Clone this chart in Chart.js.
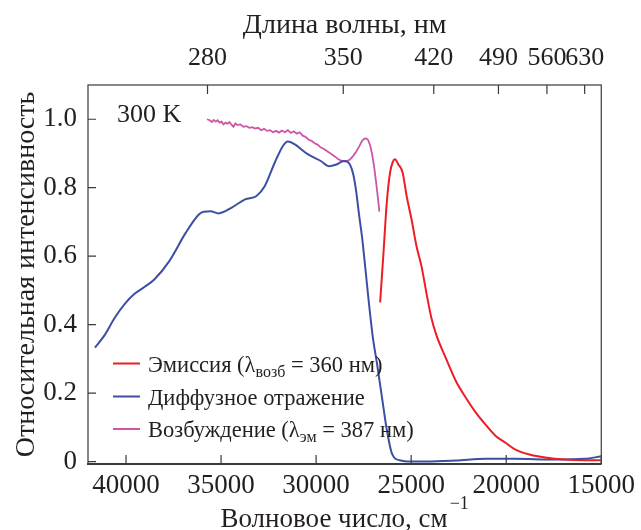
<!DOCTYPE html>
<html><head><meta charset="utf-8">
<script src="https://cdn.jsdelivr.net/npm/chart.js@4"></script>
<style>html,body{margin:0;padding:0;background:#fff}</style>
</head><body>
<canvas id="c" width="641" height="530"></canvas>
<script>
const FONT = '"Liberation Serif", "Times New Roman", serif';
const TEXT = '#231f20';

// Axis tick labels
const bottomTicks = [40000, 35000, 30000, 25000, 20000, 15000];   // cm^-1
const topTicksNm = [280, 350, 420, 490, 560, 630];                 // nm
const yTicks = [0, 0.2, 0.4, 0.6, 0.8, 1.0];

// Diffuse reflection
const reflX = [41636,41115,40595,40074,39554,39033,38513,37732,36862,36170,35910,35546,35129,34437,33739,33135,32698,32178,31745,31485,31136,30444,29752,29315,28971,28534,28362,28206,28050,27894,27738,27582,27410,27217,27009,26801,26541,26281,26020,25604,24979,24198,22636,21074,19513,17431,15869,15036];
const reflY = [0.333,0.37,0.42,0.46,0.49,0.51,0.532,0.585,0.668,0.722,0.730,0.731,0.725,0.742,0.766,0.776,0.805,0.873,0.922,0.935,0.927,0.898,0.878,0.863,0.867,0.878,0.876,0.866,0.84,0.79,0.72,0.655,0.565,0.46,0.36,0.288,0.19,0.093,0.025,0.004,0.0,0.0,0.003,0.008,0.008,0.006,0.008,0.015];

// Emission (λex = 360 nm)
const emX = [26632,26455,26283,26111,25970,25850,25673,25447,25239,24979,24718,24458,24198,23938,23677,23157,22636,22115,21595,21074,20554,20033,19513,18732,17951,16910,15869,15036];
const emY = [0.465,0.61,0.756,0.844,0.875,0.883,0.868,0.844,0.776,0.707,0.629,0.571,0.493,0.42,0.37,0.30,0.234,0.186,0.143,0.107,0.075,0.055,0.035,0.02,0.012,0.006,0.004,0.004];

// Excitation (λem = 387 nm)
const excX = [35738,35598,35478,35389,35285,35181,35077,34973,34869,34765,34661,34556,34452,34348,34244,34140,33984,33828,33672,33516,33360,33204,33047,32891,32735,32579,32423,32267,32110,31954,31798,31642,31486,31330,31173,31017,30861,30705,30549,30393,30236,30080,29924,29768,29612,29456,29299,29143,28987,28831,28675,28519,28362,28206,28050,27894,27738,27582,27477,27373,27269,27165,27061,26957,26853,26749,26671];
const excY = [1.0,0.997,0.992,0.998,0.993,0.997,0.99,0.993,0.985,0.99,0.987,0.992,0.984,0.978,0.988,0.983,0.985,0.978,0.98,0.975,0.977,0.973,0.975,0.968,0.972,0.966,0.968,0.962,0.966,0.961,0.967,0.962,0.968,0.96,0.965,0.958,0.962,0.952,0.948,0.94,0.937,0.93,0.926,0.918,0.914,0.908,0.902,0.896,0.89,0.883,0.879,0.877,0.878,0.883,0.893,0.905,0.92,0.937,0.943,0.944,0.94,0.925,0.9,0.865,0.82,0.77,0.73];

const seriesLabels = ['Эмиссия (λвозб = 360 нм)', 'Диффузное отражение', 'Возбуждение (λэм = 387 нм)'];
const legendParts = [['Эмиссия (λ', 'возб', ' = 360 нм)'], ['Диффузное отражение', '', ''], ['Возбуждение (λ', 'эм', ' = 387 нм)']];
const seriesColors = ['#ee1d23', '#3c4fa2', '#cc55a5'];
const tempLabel = '300 K';
const xTitle = ['Волновое число, см', '−1'];

const pts = (xs, ys) => xs.map((x, i) => ({x, y: ys[i]}));

const decor = {
  id: 'decor',
  afterDraw(chart) {
    const {ctx, chartArea: a, scales} = chart;
    ctx.save();
    ctx.strokeStyle = '#3a3a3a';
    ctx.lineWidth = 1.2;
    ctx.strokeRect(a.left, a.top, a.right - a.left, a.bottom - a.top);
    ctx.lineWidth = 2;
    ctx.beginPath(); ctx.moveTo(a.left - 1, a.bottom); ctx.lineTo(a.right, a.bottom); ctx.stroke();
    ctx.lineWidth = 1.2;
    ctx.beginPath();
    scales.x.ticks.forEach(t => { const p = scales.x.getPixelForValue(t.value); ctx.moveTo(p, a.bottom); ctx.lineTo(p, a.bottom - 9); });
    scales.xTop.ticks.forEach(t => { const p = scales.xTop.getPixelForValue(t.value); ctx.moveTo(p, a.top); ctx.lineTo(p, a.top + 9); });
    scales.y.ticks.forEach(t => { const p = scales.y.getPixelForValue(t.value); ctx.moveTo(a.left, p); ctx.lineTo(a.left + 8, p); });
    ctx.stroke();

    // temperature label
    ctx.fillStyle = TEXT;
    ctx.font = '26px ' + FONT;
    ctx.textAlign = 'left'; ctx.textBaseline = 'alphabetic';
    ctx.fillText(tempLabel, a.left + 29, a.top + 37);

    // legend
    const rows = [363.5, 396.5, 429];
    legendParts.forEach((parts, i) => {
      const y = rows[i];
      ctx.strokeStyle = chart.data.datasets[i].borderColor;
      ctx.lineWidth = 2;
      ctx.beginPath(); ctx.moveTo(a.left + 25, y); ctx.lineTo(a.left + 52, y); ctx.stroke();
      let x = a.left + 60;
      ctx.fillStyle = TEXT;
      ctx.font = '22.5px ' + FONT;
      ctx.fillText(parts[0], x, y + 8); x += ctx.measureText(parts[0]).width;
      if (parts[1]) {
        ctx.font = '16px ' + FONT;
        ctx.fillText(parts[1], x, y + 13); x += ctx.measureText(parts[1]).width;
        ctx.font = '22.5px ' + FONT;
        ctx.fillText(parts[2], x, y + 8);
      }
    });

    // bottom axis title with superscript
    ctx.font = '27px ' + FONT;
    const w1 = ctx.measureText(xTitle[0]).width;
    ctx.font = '18px ' + FONT;
    const w2 = ctx.measureText(xTitle[1]).width;
    const cx = (a.left + a.right) / 2;
    const x0 = cx - (w1 + w2 + 2) / 2;
    ctx.font = '27px ' + FONT;
    ctx.fillText(xTitle[0], x0, 526.5);
    ctx.font = '18px ' + FONT;
    ctx.fillText(xTitle[1], x0 + w1 + 2, 509);
    ctx.restore();
  }
};

const tickFont = {family: FONT, size: 27, lineHeight: 1.2};
const topTickFont = {family: FONT, size: 26, lineHeight: 1.2};
const titleFont = {family: FONT, size: 28, lineHeight: 1.2};
const noGrid = {display: false, drawTicks: false, tickLength: 0};

new Chart(document.getElementById('c'), {
  type: 'line',
  data: {
    datasets: [
      {label: seriesLabels[0], data: pts(emX, emY), borderColor: seriesColors[0], borderWidth: 2, cubicInterpolationMode: 'monotone', pointRadius: 0, fill: false},
      {label: seriesLabels[1], data: pts(reflX, reflY), borderColor: seriesColors[1], borderWidth: 2, cubicInterpolationMode: 'monotone', pointRadius: 0, fill: false},
      {label: seriesLabels[2], data: pts(excX, excY), borderColor: seriesColors[2], borderWidth: 1.8, tension: 0, pointRadius: 0, fill: false}
    ]
  },
  options: {
    responsive: false, animation: false, devicePixelRatio: 1,
    layout: {padding: {left: 0, right: 34, top: 0, bottom: 0}},
    plugins: {legend: {display: false}, tooltip: {enabled: false}},
    scales: {
      x: {
        type: 'linear', position: 'bottom', reverse: true, min: 15000, max: 42000,
        afterBuildTicks: s => { s.ticks = bottomTicks.map(v => ({value: v})); },
        afterFit: s => { s.height = 66; },
        grid: noGrid, border: {display: false},
        ticks: {autoSkip: false, maxRotation: 0, padding: 6, color: TEXT, font: tickFont, callback: v => String(v)},
        title: {display: false}
      },
      xTop: {
        type: 'linear', position: 'top', reverse: true, min: 15000, max: 42000,
        afterBuildTicks: s => { s.ticks = topTicksNm.map(l => ({value: 1e7 / l})); },
        afterFit: s => { s.height = 85; },
        grid: noGrid, border: {display: false},
        ticks: {autoSkip: false, maxRotation: 0, padding: 11, color: TEXT, font: topTickFont, callback: v => String(Math.round(1e7 / v))},
        title: {display: true, text: 'Длина волны, нм', color: TEXT, font: titleFont, padding: {top: 9, bottom: 0}}
      },
      y: {
        type: 'linear', position: 'left', min: -0.007, max: 1.1,
        afterBuildTicks: s => { s.ticks = yTicks.map(v => ({value: v})); },
        afterFit: s => { s.width = 88; },
        grid: noGrid, border: {display: false},
        ticks: {padding: 11, color: TEXT, font: tickFont, callback: v => (v === 0 ? '0' : Number(v).toFixed(1))},
        title: {display: true, text: 'Относительная интенсивность', color: TEXT, font: titleFont, padding: {top: 10, bottom: 0}}
      }
    }
  },
  plugins: [decor]
});
</script>
</body></html>
